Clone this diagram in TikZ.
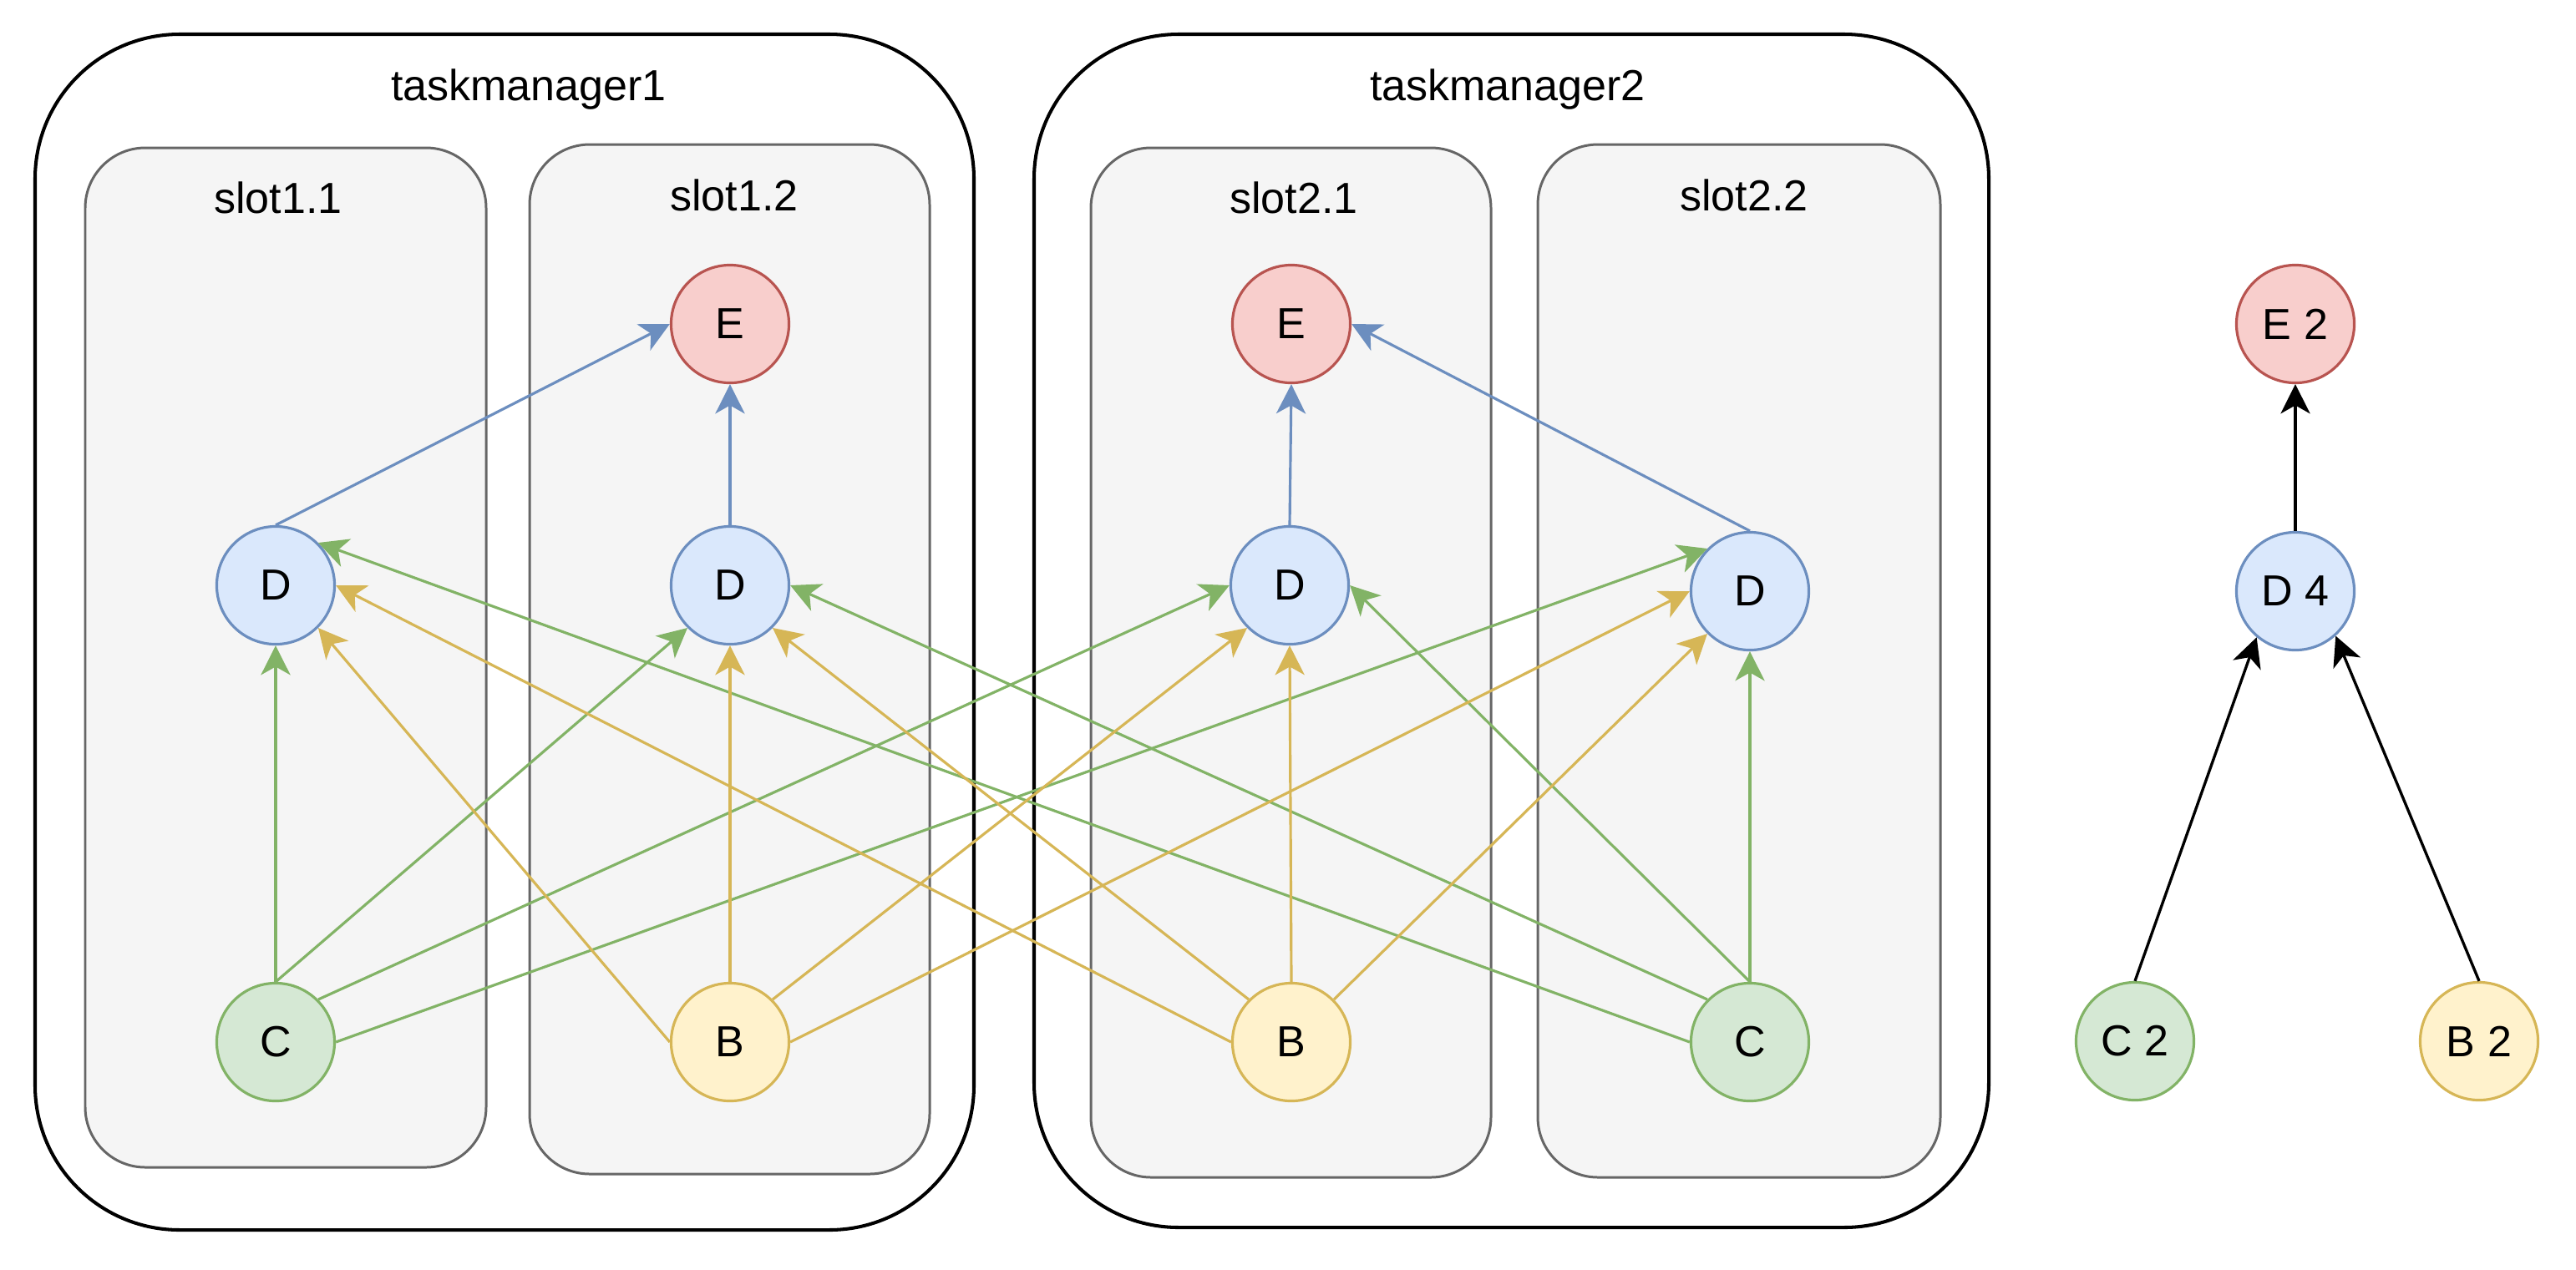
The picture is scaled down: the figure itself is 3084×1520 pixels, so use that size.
\documentclass[tikz,border=0pt]{standalone}
\usepackage{fontspec}
\setmainfont{Liberation Sans}
\usetikzlibrary{arrows.meta}
\definecolor{bluef}{HTML}{DAE8FC}
\definecolor{bluel}{HTML}{6C8EBF}
\definecolor{redf}{HTML}{F8CECC}
\definecolor{redl}{HTML}{B85450}
\definecolor{greenf}{HTML}{D5E8D4}
\definecolor{greenl}{HTML}{82B366}
\definecolor{yellowf}{HTML}{FFF2CC}
\definecolor{yellowl}{HTML}{D6B656}
\definecolor{slotf}{HTML}{F5F5F5}
\definecolor{slotl}{HTML}{666666}
\begin{document}
\begin{tikzpicture}[x=0.01cm,y=-0.01cm,
  font=\fontsize{14.8pt}{17pt}\selectfont,
  tmbox/.style={draw=black, fill=white, line width=1.15pt, rounded corners=1.73cm},
  slotbox/.style={draw=slotl, fill=slotf, line width=0.85pt, rounded corners=0.72cm},
  lbl/.style={anchor=base, inner sep=0pt},
  op/.style={circle, minimum size=1.41cm, inner sep=0pt, line width=0.9pt},
  opD/.style={op, draw=bluel, fill=bluef},
  opE/.style={op, draw=redl, fill=redf},
  opC/.style={op, draw=greenl, fill=greenf},
  opB/.style={op, draw=yellowl, fill=yellowf},
  conn/.style={line width=0.9pt, -{Stealth[length=10pt,width=10pt,inset=2.8pt]}},
  bconn/.style={conn, draw=bluel, fill=bluel},
  gconn/.style={conn, draw=greenl, fill=greenl},
  yconn/.style={conn, draw=yellowl, fill=yellowl},
  kconn/.style={conn, line width=0.95pt, draw=black, fill=black}]
\useasboundingbox (0,0) rectangle (3084,1520);

% task managers
\draw[tmbox] (42,41) rectangle (1166,1473);
\draw[tmbox] (1238,41) rectangle (2381,1470);
\node[lbl] (tm1) at (633,120) {taskmanager1};
\node[lbl] (tm2) at (1805,120) {taskmanager2};

% slots
\draw[slotbox] (102,177) rectangle (582,1398);
\draw[slotbox] (634,173) rectangle (1113,1406);
\draw[slotbox] (1306,177) rectangle (1785,1410);
\draw[slotbox] (1841,173) rectangle (2323,1410);
\node[lbl] (s11) at (333,255) {slot1.1};
\node[lbl] (s12) at (879,252) {slot1.2};
\node[lbl] (s21) at (1549,255) {slot2.1};
\node[lbl] (s22) at (2088,252) {slot2.2};

% operators
\node[opE] (E12) at (874,388) {E};
\node[opE] (E21) at (1546,388) {E};
\node[opD] (D11) at (330,701) {D};
\node[opD] (D12) at (874,701) {D};
\node[opD] (D21) at (1544,701) {D};
\node[opD] (D22) at (2095,708) {D};
\node[opC] (C11) at (330,1248) {C};
\node[opB] (B12) at (874,1248) {B};
\node[opB] (B21) at (1546,1248) {B};
\node[opC] (C22) at (2095,1248) {C};

% right graph
\node[opE] (E2) at (2748,388) {E 2};
\node[opD] (D4) at (2748,708) {D 4};
\node[opC] (C2) at (2556,1247) {C 2};
\node[opB] (B2) at (2968,1247) {B 2};

% blue edges
\draw[bconn] (D11.north) -- (E12.west);
\draw[bconn] (D12.north) -- (E12.south);
\draw[bconn] (D21.north) -- (E21.south);
\draw[bconn] (D22.north) -- (E21.east);

% green edges
\draw[gconn] (C11.north) -- (D11.south);
\draw[gconn] (C11.north) -- (D12.225);
\draw[gconn] (C11.45) -- (D21.west);
\draw[gconn] (C11.east) -- (D22.135);
\draw[gconn] (C22.north) -- (D22.south);
\draw[gconn] (C22.north) -- (D21.east);
\draw[gconn] (C22.135) -- (D12.east);
\draw[gconn] (C22.west) -- (D11.45);

% yellow edges
\draw[yconn] (B12.north) -- (D12.south);
\draw[yconn] (B12.west) -- (D11.-45);
\draw[yconn] (B12.45) -- (D21.225);
\draw[yconn] (B12.east) -- (D22.west);
\draw[yconn] (B21.north) -- (D21.south);
\draw[yconn] (B21.45) -- (D22.225);
\draw[yconn] (B21.135) -- (D12.-45);
\draw[yconn] (B21.west) -- (D11.east);

% black edges
\draw[kconn] (D4.north) -- (E2.south);
\draw[kconn] (C2.north) -- (D4.230);
\draw[kconn] (B2.north) -- (D4.312);
\end{tikzpicture}
\end{document}
